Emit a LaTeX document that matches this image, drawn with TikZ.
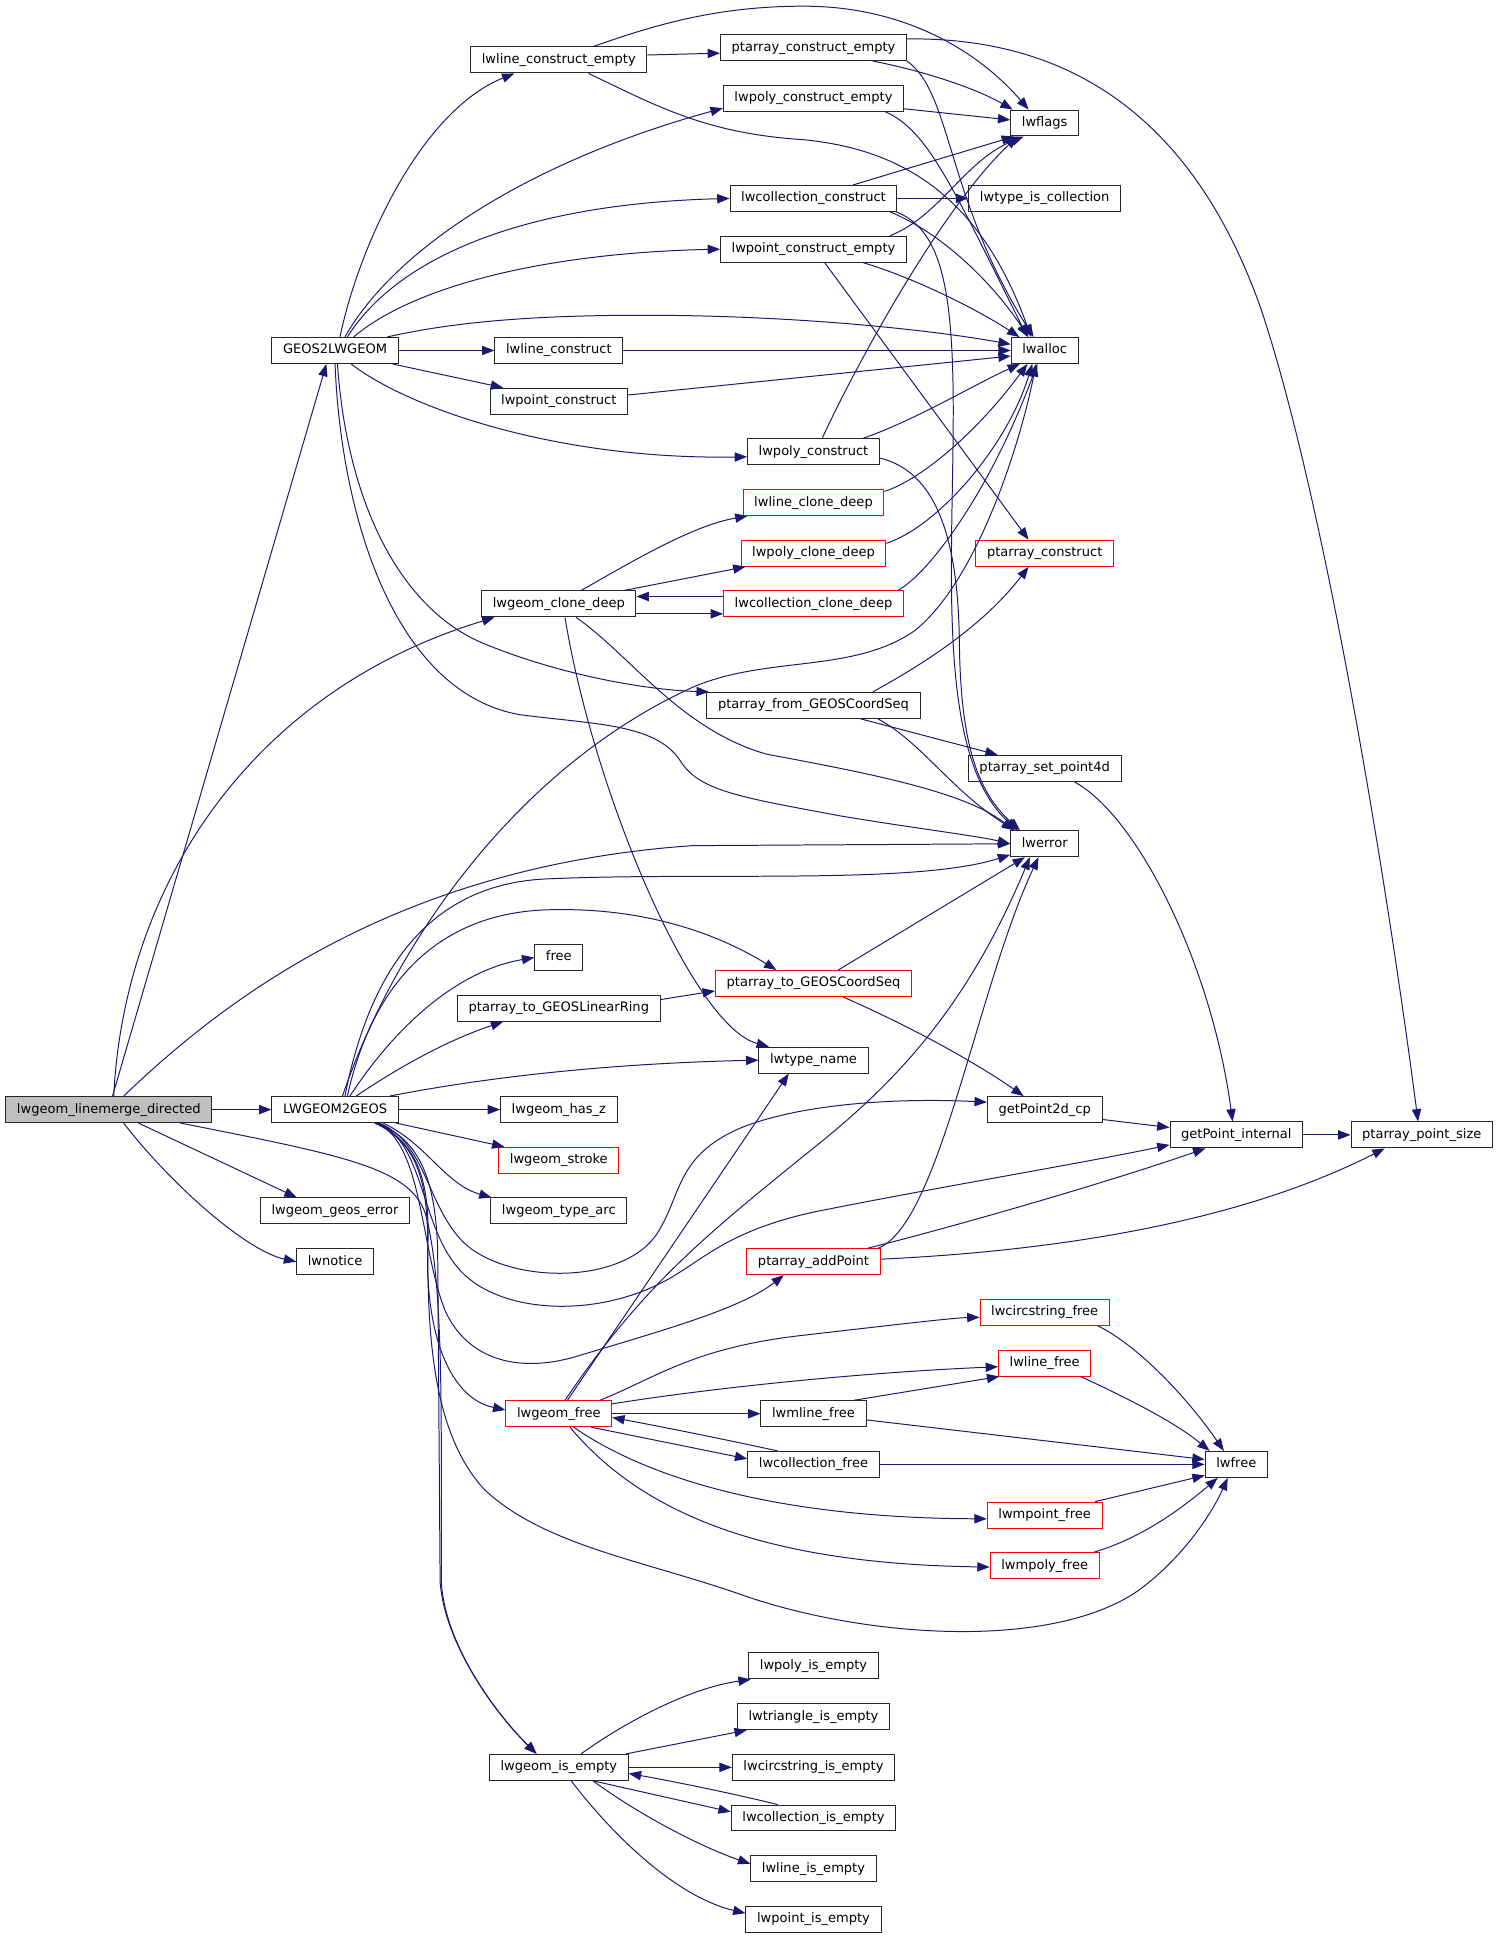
\documentclass[tikz,border=0pt]{standalone}
\usepackage{fontspec}
\setmainfont{DejaVu Sans}
\usetikzlibrary{arrows.meta}
\definecolor{edgeblue}{RGB}{25,25,112}
\definecolor{rootgray}{RGB}{191,191,191}
\begin{document}
\begin{tikzpicture}[x=1pt,y=-1pt,
  fn/.style={draw=black!85, line width=0.8pt, fill=white, minimum height=21pt, inner xsep=9pt, inner ysep=0pt,
    text height=8pt, text depth=2.4pt, font=\fontsize{10.55pt}{12pt}\selectfont},
  rf/.style={fn, draw=red},
  root/.style={fn, fill=rootgray},
  e/.style={draw=edgeblue, line width=0.8pt, -{Triangle[length=10pt,width=7.5pt]}}]
\useasboundingbox (0,0) rectangle (1213,1570);
% nodes
\node[root] (L) at (88,897.5) {lwgeom\_linemerge\_directed};
\node[fn] (G) at (271,283.5) {GEOS2LWGEOM};
\node[fn] (LG) at (271,897.5) {LWGEOM2GEOS};
\node[fn] (GGE) at (271,979.5) {lwgeom\_geos\_error};
\node[fn] (LN) at (271,1020.5) {lwnotice};
\node[fn] (LCE) at (452,48.5) {lwline\_construct\_empty};
\node[fn] (LC) at (452,283.5) {lwline\_construct};
\node[fn] (PC) at (452,324.5) {lwpoint\_construct};
\node[fn] (GCD) at (452,488.5) {lwgeom\_clone\_deep};
\node[fn] (FR) at (452,774.5) {free};
\node[fn] (PTGL) at (452,815.5) {ptarray\_to\_GEOSLinearRing};
\node[fn] (HZ) at (452,897.5) {lwgeom\_has\_z};
\node[rf] (ST) at (452,938.5) {lwgeom\_stroke};
\node[fn] (TA) at (452,979.5) {lwgeom\_type\_arc};
\node[rf] (GF) at (452,1143.5) {lwgeom\_free};
\node[fn] (GIE) at (452,1429.5) {lwgeom\_is\_empty};
\node[fn] (PCE) at (658,38.5) {ptarray\_construct\_empty};
\node[fn] (PYCE) at (658,79.5) {lwpoly\_construct\_empty};
\node[fn] (CC) at (658,160.5) {lwcollection\_construct};
\node[fn] (PTCE) at (658,201.5) {lwpoint\_construct\_empty};
\node[fn] (PYC) at (658,365.5) {lwpoly\_construct};
\node[rf] (LCD) at (658,406.5) {lwline\_clone\_deep};
\node[rf] (PYCD) at (658,447.5) {lwpoly\_clone\_deep};
\node[rf] (CCD) at (658,488.5) {lwcollection\_clone\_deep};
\node[fn] (PFG) at (658,570.5) {ptarray\_from\_GEOSCoordSeq};
\node[rf] (PTG) at (658,795.5) {ptarray\_to\_GEOSCoordSeq};
\node[fn] (TN) at (658,857.5) {lwtype\_name};
\node[rf] (PAP) at (658,1020.5) {ptarray\_addPoint};
\node[fn] (MLF) at (658,1143.5) {lwmline\_free};
\node[fn] (CF) at (658,1184.5) {lwcollection\_free};
\node[fn] (PIE) at (658,1347.5) {lwpoly\_is\_empty};
\node[fn] (TIE) at (658,1388.5) {lwtriangle\_is\_empty};
\node[fn] (CSIE) at (658,1429.5) {lwcircstring\_is\_empty};
\node[fn] (CIE) at (658,1470.5) {lwcollection\_is\_empty};
\node[fn] (LIE) at (658,1511.5) {lwline\_is\_empty};
\node[fn] (PtIE) at (658,1552.5) {lwpoint\_is\_empty};
\node[fn] (FL) at (845,99.5) {lwflags};
\node[fn] (TIC) at (845,160.5) {lwtype\_is\_collection};
\node[fn] (AL) at (845,283.5) {lwalloc};
\node[rf] (PCO) at (845,447.5) {ptarray\_construct};
\node[fn] (SP4) at (845,621.5) {ptarray\_set\_point4d};
\node[fn] (ER) at (845,682.5) {lwerror};
\node[fn] (GP2) at (845,897.5) {getPoint2d\_cp};
\node[rf] (CSF) at (845,1061.5) {lwcircstring\_free};
\node[rf] (LF) at (845,1102.5) {lwline\_free};
\node[rf] (MPF) at (845,1225.5) {lwmpoint\_free};
\node[rf] (MPYF) at (845,1266.5) {lwmpoly\_free};
\node[fn] (GPI) at (1000,918) {getPoint\_internal};
\node[fn] (FREE) at (1000,1184.5) {lwfree};
\node[fn] (PPS) at (1150,918) {ptarray\_point\_size};
% edges from lwgeom_linemerge_directed
\draw[e] ([xshift=3pt]L.north) -- ([xshift=-7pt]G.south);
\draw[e] ([xshift=4pt]L.north) .. controls (100,720) and (200,560) .. ([xshift=-52pt]GCD.south);
\draw[e] ([xshift=12pt]L.north) .. controls (190,800) and (330,700) .. (560,684) -- (ER.west);
\draw[e] (L.east) -- (LG.west);
\draw[e] ([xshift=24pt]L.south) -- ([xshift=-31pt]GGE.north);
\draw[e] ([xshift=12pt]L.south) .. controls (140,960) and (200,1012) .. (LN.west);
\draw[e] ([xshift=58pt]L.south) .. controls (280,935) and (335,945) .. (345,985) .. controls (356,1030) and (357,1100) .. (357,1200) -- (357,1280) .. controls (360,1330) and (400,1385) .. ([xshift=-18pt]GIE.north);
% edges from LWGEOM2GEOS
\draw[e] ([xshift=34pt]LG.south) .. controls (340,922) and (352,955) .. (354,1010) -- (356,1280) .. controls (360,1330) and (400,1385) .. ([xshift=-18pt]GIE.north);
\draw[e] ([xshift=32pt]LG.south) .. controls (340,925) and (346,960) .. (346,1010) .. controls (346,1080) and (350,1160) .. (392,1205) .. controls (440,1250) and (520,1262) .. (600,1290) .. controls (700,1325) and (850,1335) .. (920,1287) .. controls (955,1262) and (980,1225) .. ([xshift=-7pt]FREE.south);
\draw[e] ([xshift=33pt]LG.south) .. controls (340,925) and (348,960) .. (346,1010) .. controls (344,1070) and (360,1130) .. ([yshift=3pt]GF.west);
\draw[e] ([xshift=36pt]LG.south) .. controls (345,925) and (345,975) .. (375,1005) .. controls (410,1038) and (500,1040) .. (530,1000) .. controls (552,968) and (545,935) .. (600,912) .. controls (650,892) and (730,888) .. ([yshift=6pt]GP2.west);
\draw[e] ([xshift=35pt]LG.south) .. controls (343,925) and (340,990) .. (370,1025) .. controls (400,1062) and (480,1068) .. (540,1035) .. controls (570,1018) and (590,995) .. (660,980) .. controls (760,960) and (880,940) .. ([yshift=-8pt]GPI.west);
\draw[e] ([xshift=34pt]LG.south) .. controls (342,925) and (340,1010) .. (360,1060) .. controls (378,1100) and (420,1112) .. (470,1096) .. controls (540,1075) and (600,1058) .. ([xshift=-24pt]PAP.south);
\draw[e] ([xshift=-2pt]LG.south east) -- ([xshift=5pt]ST.north west);
\draw[e] ([xshift=39pt]LG.south) .. controls (345,925) and (360,958) .. ([xshift=1pt]TA.north west);
\draw[e] (LG.east) -- (HZ.west);
\draw[e] ([xshift=44pt]LG.north) .. controls (400,870) and (500,860) .. (TN.west);
\draw[e] ([xshift=17pt]LG.north) .. controls (320,865) and (360,842) .. ([xshift=-45pt]PTGL.south);
\draw[e] ([xshift=12pt]LG.north) .. controls (320,830) and (370,785) .. (FR.west);
\draw[e] ([xshift=10pt]LG.north) .. controls (300,800) and (350,740) .. (440,736) .. controls (520,733) and (580,755) .. ([xshift=-30pt]PTG.north);
\draw[e] ([xshift=8pt]LG.north) .. controls (300,780) and (350,716) .. (440,711) .. controls (570,705) and (740,716) .. ([yshift=2pt]ER.south west);
\draw[e] ([xshift=6pt]LG.north) .. controls (320,760) and (420,620) .. (560,556) .. controls (620,530) and (690,545) .. (740,510) .. controls (790,470) and (825,360) .. ([xshift=-7pt]AL.south);
% edges from GEOS2LWGEOM
\draw[e] ([xshift=4pt]G.north) .. controls (290,200) and (340,90) .. ([xshift=-36pt]LCE.south);
\draw[e] ([xshift=8pt]G.north) .. controls (320,200) and (430,130) .. ([yshift=-8pt]PYCE.west);
\draw[e] ([xshift=10pt]G.north) .. controls (320,210) and (420,165) .. (CC.west);
\draw[e] ([xshift=15pt]G.north) .. controls (330,235) and (430,205) .. (PTCE.west);
\draw[e] ([xshift=42pt]G.north) .. controls (360,262) and (420,255) .. (520,255) .. controls (650,255) and (760,268) .. ([yshift=5pt]AL.west);
\draw[e] (G.east) -- (LC.west);
\draw[e] ([xshift=-5pt]G.south east) -- ([xshift=11pt]PC.north west);
\draw[e] ([xshift=13pt]G.south) .. controls (330,330) and (450,372) .. ([yshift=-4pt]PYC.west);
\draw[e] ([xshift=2pt]G.south) .. controls (280,400) and (320,490) .. (390,520) .. controls (450,545) and (520,558) .. ([xshift=2pt]PFG.north west);
\draw[e] (G.south) .. controls (276,420) and (320,560) .. (420,578) .. controls (480,586) and (530,585) .. (550,615) .. controls (565,640) and (600,645) .. (680,660) .. controls (740,670) and (790,676) .. (ER.west);
% lwline_construct_empty
\draw[e] ([yshift=4pt]LCE.east) -- ([yshift=-4.5pt]PCE.west);
\draw[e] ([xshift=28pt]LCE.north) .. controls (530,20) and (580,5) .. (650,5) .. controls (730,5) and (790,40) .. ([xshift=-13pt]FL.north);
\draw[e] ([xshift=24pt]LCE.south) .. controls (530,85) and (570,108) .. (650,113) .. controls (720,120) and (790,150) .. ([xshift=-11pt]AL.north);
% ptarray_construct_empty
\draw[e] ([xshift=48pt]PCE.south) .. controls (750,58) and (790,72) .. ([xshift=2pt]FL.north west);
\draw[e] (PCE.south east) .. controls (770,75) and (765,160) .. ([xshift=-9pt]AL.north);
\draw[e] ([yshift=7pt]PCE.east) .. controls (850,30) and (960,80) .. (1020,250) .. controls (1070,400) and (1120,700) .. ([xshift=-3pt]PPS.north);
% lwpoly_construct_empty
\draw[e] ([yshift=-8.5pt]PYCE.east) -- ([yshift=2.5pt]FL.west);
\draw[e] ([xshift=58pt]PYCE.south) .. controls (750,105) and (770,150) .. ([xshift=-14pt]AL.north);
% lwcollection_construct
\draw[e] ([xshift=32pt]CC.north) -- ([xshift=3pt]FL.south west);
\draw[e] (CC.east) -- (TIC.west);
\draw[e] ([xshift=62pt]CC.south) .. controls (760,188) and (800,225) .. ([xshift=-13pt]AL.north);
\draw[e] ([xshift=-1pt]CC.south east) .. controls (760,185) and (770,230) .. (771,320) .. controls (772,450) and (755,610) .. ([xshift=-22pt]ER.north);
% lwpoint_construct_empty
\draw[e] ([xshift=62pt]PTCE.north) .. controls (760,175) and (780,130) .. ([xshift=-17pt]FL.south);
\draw[e] ([xshift=40pt]PTCE.south) .. controls (740,225) and (790,250) .. ([xshift=7pt]AL.north west);
\draw[e] ([xshift=9pt]PTCE.south) -- ([xshift=-13pt]PCO.north);
% lwline_construct, lwpoint_construct
\draw[e] (LC.east) -- (AL.west);
\draw[e] ([yshift=5pt]PC.east) -- ([yshift=-4.5pt]AL.west);
% lwpoly_construct
\draw[e] ([xshift=7pt]PYC.north) .. controls (690,300) and (760,170) .. ([xshift=-22pt]FL.south);
\draw[e] ([xshift=40pt]PYC.north) .. controls (740,340) and (790,310) .. ([xshift=-20pt]AL.south);
\draw[e] ([yshift=-5pt]PYC.east) .. controls (750,380) and (775,420) .. (776,520) .. controls (777,600) and (790,640) .. ([xshift=-20pt]ER.north);
% clone_deep family
\draw[e] ([yshift=9pt]LCD.east) .. controls (745,388) and (790,350) .. ([xshift=-14pt]AL.south);
\draw[e] ([yshift=8pt]PYCD.east) .. controls (760,425) and (815,360) .. ([xshift=-10pt]AL.south);
\draw[e] ([xshift=-5pt]CCD.north east) .. controls (750,465) and (800,400) .. ([xshift=-6pt]AL.south);
\draw[e] ([yshift=6pt]CCD.west) -- ([yshift=6pt]GCD.east);
\draw[e] ([yshift=-8pt]GCD.east) -- ([yshift=-8pt]CCD.west);
\draw[e] ([xshift=18pt]GCD.north) .. controls (510,455) and (560,425) .. ([xshift=4pt]LCD.south west);
\draw[e] ([xshift=-10pt]GCD.north east) -- ([xshift=4pt]PYCD.south west);
\draw[e] ([xshift=14pt]GCD.south) .. controls (510,530) and (550,590) .. (620,610) .. controls (700,625) and (780,640) .. ([xshift=-25pt]ER.north);
\draw[e] ([xshift=5pt]GCD.south) .. controls (480,640) and (560,830) .. ([xshift=-36pt]TN.north);
% ptarray_from_GEOSCoordSeq
\draw[e] ([xshift=48pt]PFG.north) .. controls (760,530) and (800,500) .. ([xshift=-13pt]PCO.south);
\draw[e] ([xshift=38pt]PFG.south) -- ([xshift=-38pt]SP4.north);
\draw[e] ([xshift=52pt]PFG.south) .. controls (745,600) and (770,640) .. ([xshift=-24pt]ER.north);
\draw[e] ([xshift=24pt]SP4.south) .. controls (920,660) and (980,780) .. ([xshift=-3pt]GPI.north);
% getPoint
\draw[e] ([yshift=-8pt]GP2.east) -- ([yshift=6pt]GPI.west);
\draw[e] (GPI.east) -- (PPS.west);
% ptarray_to_GEOS*
\draw[e] ([yshift=7pt]PTGL.east) -- ([yshift=-6pt]PTG.west);
\draw[e] ([xshift=20pt]PTG.north) -- ([xshift=-16pt]ER.south);
\draw[e] ([xshift=24pt]PTG.south) .. controls (740,832) and (790,860) .. ([xshift=-17pt]GP2.north);
% ptarray_addPoint
\draw[e] ([xshift=44pt]PAP.north) .. controls (780,990) and (900,955) .. ([xshift=-25pt]GPI.south);
\draw[e] ([yshift=2pt]PAP.east) .. controls (850,1012) and (1000,990) .. ([xshift=-30pt]PPS.south);
\draw[e] ([xshift=-2pt]PAP.north east) .. controls (760,990) and (790,800) .. ([xshift=-5pt]ER.south);
% lwgeom_free
\draw[e] ([xshift=7pt]GF.north) -- ([xshift=-20pt]TN.south);
\draw[e] ([xshift=5pt]GF.north) .. controls (520,1040) and (570,1000) .. (650,935) .. controls (720,880) and (780,820) .. ([xshift=-12pt]ER.south);
\draw[e] ([xshift=-10pt]GF.north east) .. controls (530,1115) and (560,1090) .. (650,1080) .. controls (720,1072) and (770,1066) .. ([yshift=-4pt]CSF.west);
\draw[e] ([yshift=8pt]GF.east) .. controls (580,1122) and (700,1110) .. ([yshift=-3pt]LF.west);
\draw[e] (GF.east) -- (MLF.west);
\draw[e] ([xshift=-17pt]GF.south east) -- ([yshift=4.5pt]CF.west);
\draw[e] ([xshift=-29pt]CF.north) .. controls (590,1165) and (540,1155) .. ([yshift=-3pt]GF.east);
\draw[e] ([xshift=12pt]GF.south) .. controls (530,1200) and (640,1228) .. ([yshift=-3pt]MPF.west);
\draw[e] ([xshift=9pt]GF.south) .. controls (520,1225) and (620,1265) .. ([yshift=-1pt]MPYF.west);
% free functions
\draw[e] ([xshift=-10pt]MLF.north east) -- ([xshift=1pt]LF.south west);
\draw[e] ([yshift=-5pt]MLF.east) -- ([yshift=4pt]FREE.west);
\draw[e] (CF.east) -- (FREE.west);
\draw[e] ([xshift=43pt]CSF.south) .. controls (920,1088) and (960,1130) .. ([xshift=-10pt]FREE.north);
\draw[e] ([xshift=29pt]LF.south) .. controls (910,1130) and (950,1150) .. ([xshift=4pt]FREE.north west);
\draw[e] ([xshift=-6pt]MPF.north east) -- ([yshift=2pt]FREE.south west);
\draw[e] ([xshift=-5pt]MPYF.north east) .. controls (920,1245) and (950,1225) .. ([xshift=-15pt]FREE.south);
% lwgeom_is_empty
\draw[e] ([xshift=18pt]GIE.north) .. controls (510,1390) and (560,1365) .. ([xshift=2pt]PIE.south west);
\draw[e] ([xshift=-2pt]GIE.north east) -- ([xshift=8pt]TIE.south west);
\draw[e] (GIE.east) -- (CSIE.west);
\draw[e] ([xshift=-29pt]GIE.south east) -- ([yshift=5pt]CIE.west);
\draw[e] ([xshift=-29pt]CIE.north) .. controls (590,1450) and (540,1440) .. ([yshift=-5pt]GIE.east);
\draw[e] ([xshift=-29pt]GIE.south east) .. controls (520,1470) and (570,1495) .. ([yshift=4pt]LIE.west);
\draw[e] ([xshift=10pt]GIE.south) .. controls (500,1490) and (550,1535) .. ([yshift=5pt]PtIE.west);
\end{tikzpicture}
\end{document}
